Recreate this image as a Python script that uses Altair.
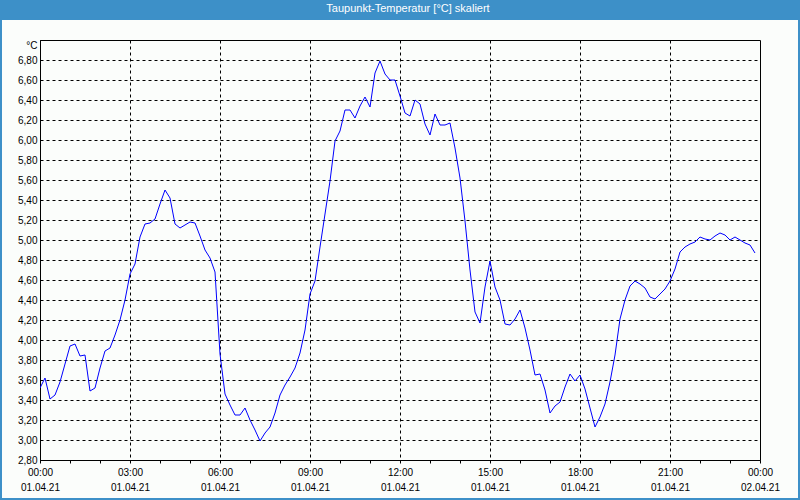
import altair as alt
import pandas as pd

# 10-minute readings, 01.04.21 00:00 .. 23:50
minutes = list(range(0, 1440, 10))
dewpoint = [
    3.52, 3.62, 3.41, 3.45, 3.58, 3.76, 3.94, 3.96, 3.84, 3.85,
    3.49, 3.52, 3.72, 3.89, 3.92, 4.05, 4.20, 4.40, 4.66, 4.76,
    5.03, 5.16, 5.17, 5.21, 5.36, 5.50, 5.42, 5.16, 5.12, 5.15,
    5.18, 5.17, 5.04, 4.90, 4.82, 4.68, 3.86, 3.46, 3.35, 3.25,
    3.25, 3.32, 3.20, 3.10, 2.99, 3.07, 3.13, 3.27, 3.45, 3.55,
    3.63, 3.72, 3.87, 4.10, 4.46, 4.59, 4.93, 5.26, 5.59, 5.99,
    6.09, 6.30, 6.30, 6.22, 6.34, 6.43, 6.33, 6.67, 6.79, 6.66,
    6.60, 6.60, 6.44, 6.27, 6.24, 6.40, 6.36, 6.16, 6.05, 6.26,
    6.15, 6.15, 6.17, 5.92, 5.62, 5.19, 4.70, 4.28, 4.17, 4.53,
    4.79, 4.53, 4.40, 4.16, 4.15, 4.21, 4.30, 4.12, 3.90, 3.65,
    3.66, 3.50, 3.27, 3.34, 3.38, 3.53, 3.66, 3.59, 3.65, 3.51,
    3.32, 3.13, 3.23, 3.36, 3.58, 3.85, 4.21, 4.40, 4.54, 4.59,
    4.56, 4.52, 4.43, 4.41, 4.46, 4.51, 4.59, 4.71, 4.88, 4.93,
    4.96, 4.98, 5.03, 5.01, 5.00, 5.04, 5.07, 5.05, 5.00, 5.03,
    5.00, 4.97, 4.95, 4.87,
]
y_ticks = [2.8, 3.0, 3.2, 3.4, 3.6, 3.8, 4.0, 4.2, 4.4, 4.6, 4.8, 5.0,
           5.2, 5.4, 5.6, 5.8, 6.0, 6.2, 6.4, 6.6, 6.8, 7.0]
x_ticks = list(range(0, 1441, 60))
title_text = "Taupunkt-Temperatur [°C] skaliert"

BAR_BLUE = "#3d90c8"
BG = "#fbfdfb"

df = pd.DataFrame({"t": minutes, "v": dewpoint[:len(minutes)]})
one = alt.Data(values=[{}])

x_axis = alt.Axis(
    values=x_ticks,
    title=None,
    grid=True,
    gridColor="#000000",
    gridDash=[3, 3],
    gridOpacity={"condition": {"test": "datum.value % 180 === 0 && datum.value > 0 && datum.value < 1440", "value": 1}, "value": 0},
    tickSize=3,
    tickColor="#000000",
    domainColor="#000000",
    labelExpr="datum.value % 180 === 0 ? [(datum.value >= 1440 ? '00' : format(datum.value / 60, '02d')) + ':00', datum.value >= 1440 ? '02.04.21' : '01.04.21'] : ''",
    labelFlush=False,
    labelOverlap=False,
    labelPadding=4,
    labelLineHeight=15.5,
    labelBaseline="top",
)

y_axis = alt.Axis(
    values=y_ticks,
    title=None,
    grid=True,
    gridColor="#000000",
    gridDash=[3, 3],
    tickSize=0,
    domainColor="#000000",
    labelExpr="datum.value >= 6.99 ? '°C' : replace(format(datum.value, '.2f'), '.', ',')",
    labelBaseline={"condition": {"test": "datum.value >= 6.99", "value": "top"}, "value": "middle"},
    labelOverlap=False,
    labelPadding=3,
)

line = alt.Chart(df).mark_line(color="#0000ff", strokeWidth=1, clip=True).encode(
    x=alt.X("t:Q", scale=alt.Scale(domain=[0, 1440], nice=False), axis=x_axis),
    y=alt.Y("v:Q", scale=alt.Scale(domain=[2.8, 7.0], nice=False, zero=False), axis=y_axis),
)

title_bar = alt.Chart(one).mark_rect(color=BAR_BLUE).encode(
    x=alt.value(-40), x2=alt.value(760), y=alt.value(-40), y2=alt.value(-20)
)
frame = alt.Chart(one).mark_rect(fillOpacity=0, stroke=BAR_BLUE, strokeWidth=2).encode(
    x=alt.value(-39), x2=alt.value(759), y=alt.value(-39), y2=alt.value(459)
)
title = alt.Chart(one).mark_text(
    color="#ffffff", font="Liberation Sans", fontSize=11, align="center", baseline="middle"
).encode(x=alt.value(368), y=alt.value(-31), text=alt.value(title_text))

chart = alt.layer(line, title_bar, frame, title).properties(
    width=720, height=420,
    autosize=alt.AutoSizeParams(type="none"),
    padding={"left": 40, "top": 40, "right": 40, "bottom": 40},
    background=BG,
).configure_view(
    stroke="#000000", strokeWidth=1, fill=BG
).configure_axis(
    labelFont="Liberation Sans", labelFontSize=10, labelColor="#000000",
)

chart.save("out.html", embed_options={"renderer": "svg", "actions": False})
